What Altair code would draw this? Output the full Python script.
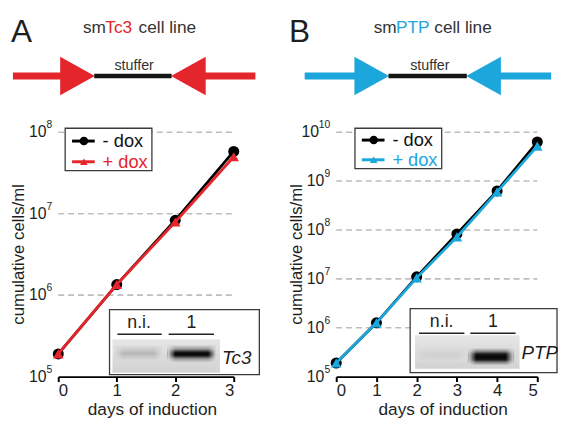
import altair as alt
import pandas as pd

# ---------------- data ----------------
days_a = [0, 1, 2, 3]
minus_dox_a = [1.9e5, 1.35e6, 8.3e6, 5.8e7]
plus_dox_a = [1.9e5, 1.35e6, 7.9e6, 5.0e7]

days_b = [0, 1, 2, 3, 4, 5]
minus_dox_b = [1.9e5, 1.26e6, 1.1e7, 8.3e7, 6.3e8, 6.3e9]
plus_dox_b = [1.9e5, 1.26e6, 1.05e7, 7.2e7, 6.0e8, 5.2e9]

decades_a = [5, 6, 7, 8]
decades_b = [5, 6, 7, 8, 9, 10]

series_labels = ["- dox", "+ dox"]
gel_lanes = ["n.i.", "1"]
panel_letters = ["A", "B"]
gene_names = ["Tc3", "PTP"]
x_title = "days of induction"
y_title = "cumulative cells/ml"
stuffer_label = "stuffer"

FONT = "Liberation Sans"
INK = "#1e1e1e"
GTXT = "#333333"
RED = "#e4252b"
BLUE = "#1ba6dc"
GEL_MID = "#dbdbdb"
GEL_CLEAR = "rgba(219,219,219,0)"


def one():
    return alt.Chart(pd.DataFrame({"k": [0]}))


def V(v):
    return alt.value(v)


def rule(x1, x2, y, color, w, opacity=1):
    return one().mark_rule(color=color, strokeWidth=w, strokeCap="butt", opacity=opacity).encode(
        x=V(x1), x2=V(x2), y=V(y))


def text(x, y, s, size, color=INK, align="left", baseline="middle", style="normal", angle=None):
    m = dict(align=align, baseline=baseline, fontSize=size, color=color, font=FONT, fontStyle=style)
    if angle is not None:
        m["angle"] = angle
    return one().mark_text(**m).encode(x=V(x), y=V(y), text=V(s))


def rect(x1, x2, y1, y2, fill, stroke=None, sw=1.2):
    m = dict(fill=fill)
    if stroke is not None:
        m["stroke"] = stroke
        m["strokeWidth"] = sw
    return one().mark_rect(**m).encode(x=V(x1), x2=V(x2), y=V(y1), y2=V(y2))


def tri(x, y, color, right=True):
    path = "M-0.9,-1L0.9,0L-0.9,1Z" if right else "M0.9,-1L-0.9,0L0.9,1Z"
    return one().mark_point(shape=path, size=1521, filled=True, color=color, opacity=1,
                            strokeWidth=0).encode(x=V(x), y=V(y))


def lin(stops, horizontal=False):
    g = {"gradient": "linear", "x1": 0, "y1": 0, "x2": 1 if horizontal else 0,
         "y2": 0 if horizontal else 1}
    g["stops"] = [{"offset": o, "color": c} for o, c in stops]
    return g


def band(x1, x2, y1, y2, stops, fade=8):
    return [
        rect(x1, x2, y1, y2, lin(stops)),
        rect(x1, x1 + fade, y1, y2, lin([(0, GEL_MID), (1, GEL_CLEAR)], True)),
        rect(x2 - fade, x2, y1, y2, lin([(0, GEL_CLEAR), (1, GEL_MID)], True)),
    ]


GEL_FILL = lin([(0, "#e6e6e6"), (0.5, "#dbdbdb"), (1, "#d3d3d3")])


def panel(days, minus, plus, decs, color, marker_shape, letter, gene, W, H, L, faint_stops,
          band_stops):
    top = 10.0 ** max(decs)
    ysc = alt.Scale(type="log", domain=[1e5, top], nice=False)
    xsc = alt.Scale(domain=[0, max(days)], nice=False)
    df_m = pd.DataFrame({"day": days, "cells": minus})
    df_p = pd.DataFrame({"day": days, "cells": plus})
    xaxis = alt.Axis(values=days, format="d", title=x_title, grid=False,
                     labelFontSize=17, titleFontSize=17.5, labelFont=FONT, titleFont=FONT,
                     labelColor=INK, titleColor=INK, titleFontWeight="normal",
                     tickSize=5, tickWidth=2, tickColor="black", domainColor="black",
                     domainWidth=2, labelPadding=1, titlePadding=2, titleX=W / 2 + 6)
    yaxis = alt.Axis(values=[10.0 ** e for e in decs], labels=False, title=None, grid=False,
                     tickSize=5, tickWidth=2, tickColor="black", domainColor="black",
                     domainWidth=2)
    ex = alt.X("day:Q", scale=xsc, axis=xaxis)
    ey = alt.Y("cells:Q", scale=ysc, axis=yaxis)

    line_m = alt.Chart(df_m).mark_line(color="black", strokeWidth=2.8).encode(x=ex, y=ey)
    pts_m = alt.Chart(df_m).mark_point(filled=True, shape="circle", size=125, color="black",
                                       opacity=1).encode(x=ex, y=ey)
    line_p = alt.Chart(df_p).mark_line(color=color, strokeWidth=2.8).encode(x=ex, y=ey)
    pts_p = alt.Chart(df_p).mark_point(filled=True, shape=marker_shape, size=115, color=color,
                                       opacity=1).encode(x=ex, y=ey)

    decbase = alt.Chart(pd.DataFrame({"e": decs})).transform_calculate(
        v="pow(10, datum.e)", es="'' + datum.e")
    yv = alt.Y("v:Q", scale=ysc, axis=None)
    grid = decbase.transform_filter("datum.e > %d" % min(decs)).mark_rule(
        color="#bdbdbd", strokeDash=[6, 4], strokeWidth=1.6).encode(y=yv, x=V(0), x2=V(W))
    ten1 = decbase.transform_filter("datum.e < 10").mark_text(
        align="right", baseline="middle", fontSize=16, font=FONT, color=INK).encode(
        y=yv, x=V(-12), text=V("10"))
    ten2 = decbase.transform_filter("datum.e >= 10").mark_text(
        align="right", baseline="middle", fontSize=16, font=FONT, color=INK).encode(
        y=yv, x=V(-17.5), text=V("10"))
    exps = decbase.mark_text(align="right", baseline="middle", fontSize=10.5, dy=-7,
                             font=FONT, color=INK).encode(y=yv, x=V(-6), text="es:N")

    # top diagram
    deco = [
        rule(-51, -49, -123, "white", 1, 0),
        text(L["letter"][0], L["letter"][1], letter, 32, INK, baseline="alphabetic"),
        text(L["t_sm"], L["t_y"], "sm", 17.5, GTXT, baseline="alphabetic"),
        text(L["t_gene"], L["t_y"], gene, 17.5, color, baseline="alphabetic"),
        text(L["t_rest"], L["t_y"], "cell line", 17.5, GTXT, baseline="alphabetic"),
        rule(L["ar_l"], L["tri_l"], L["ar_y"], color, 7),
        rule(L["tri_r"], L["ar_r"], L["ar_y"], color, 7),
        tri(L["tri_l"], L["ar_y"], color, True),
        tri(L["tri_r"], L["ar_y"], color, False),
        rule(L["tri_l"] + 17, L["tri_r"] - 17, L["ar_y"], "#151515", 4.5),
        text(L["stuf_x"], L["ar_y"] - 6, stuffer_label, 14.5, GTXT, align="center",
             baseline="alphabetic"),
        text(L["ytitle_x"], H / 2, y_title, 17, INK, align="center", angle=270),
    ]

    # legend
    bx1, bx2, by1, by2 = L["leg_box"]
    r1, r2 = L["leg_rows"]
    lx1, lx2 = L["leg_line"]
    legend = [
        rect(bx1, bx2, by1, by2, "white", "#3a3a3a", 1.3),
        rule(lx1, lx2, r1, "black", 3),
        one().mark_point(filled=True, shape="circle", size=75, color="black", opacity=1).encode(
            x=V(L["leg_mark"]), y=V(r1)),
        text(L["leg_text"], r1, series_labels[0], 18.5, "#111111"),
        rule(lx1, lx2, r2, color, 3),
        one().mark_point(filled=True, shape=marker_shape, size=60, color=color, opacity=1).encode(
            x=V(L["leg_mark"]), y=V(r2)),
        text(L["leg_text"], r2, series_labels[1], 18.5, color),
    ]

    # inset gel
    ib = L["in_box"]
    g = L["gel"]
    fb = L["faint"]
    db = L["band"]
    inset = [
        rect(ib[0], ib[1], ib[2], ib[3], "white", "#3a3a3a", 1.3),
        rect(g[0], g[1], g[2], g[3], GEL_FILL),
        *band(fb[0], fb[1], fb[2], fb[3], faint_stops),
        *band(db[0], db[1], db[2], db[3], band_stops),
        rule(L["ln1"][0], L["ln1"][1], L["ln_y"], "#222222", 1.6),
        rule(L["ln2"][0], L["ln2"][1], L["ln_y"], "#222222", 1.6),
        text(L["lab1"], L["lab_y"], gel_lanes[0], 18, INK, align="center"),
        text(L["lab2"], L["lab_y"], gel_lanes[1], 18, INK, align="center"),
        text(L["gene_x"], L["gene_y"], gene, 19, INK, style="italic"),
    ]

    return alt.layer(grid, line_m, pts_m, line_p, pts_p, ten1, ten2, exps,
                     *deco, *legend, *inset).properties(width=W, height=H)


LA = dict(letter=(-48, -92), t_sm=25, t_gene=47.7, t_rest=81.5, t_y=-101,
          ar_y=-57, ar_l=-46, ar_r=200, tri_l=19.5, tri_r=132, stuf_x=77, ytitle_x=-40,
          leg_box=(7, 95, -4, 39), leg_rows=(9, 30), leg_line=(14, 37), leg_mark=26, leg_text=45,
          in_box=(52, 204, 180, 246), gel=(55, 164, 210, 244), faint=(58, 105, 217, 232),
          band=(111, 160, 216, 234), ln1=(60, 105), ln2=(112, 158), ln_y=205,
          lab1=82, lab2=135, lab_y=194, gene_x=166, gene_y=229)

LB = dict(letter=(-48, -92), t_sm=38, t_gene=60.7, t_rest=99.5, t_y=-101,
          ar_y=-57, ar_l=-32, ar_r=218, tri_l=36, tri_r=149.5, stuf_x=95, ytitle_x=-40,
          leg_box=(19, 107, -4, 37), leg_rows=(8, 28), leg_line=(26, 49), leg_mark=38, leg_text=57,
          in_box=(75, 224, 179, 244), gel=(80, 186, 206, 240), faint=(82, 132, 219, 233),
          band=(134, 180, 219, 237), ln1=(84, 130), ln2=(136, 182), ln_y=204,
          lab1=107, lab2=159, lab_y=193, gene_x=188, gene_y=224)

FAINT_A = [(0, GEL_MID), (0.3, "#c6c6c6"), (0.5, "#b6b6b6"), (0.7, "#c6c6c6"), (1, GEL_MID)]
FAINT_B = [(0, GEL_MID), (0.5, "#d0d0d0"), (1, GEL_MID)]
BAND_A = [(0, GEL_MID), (0.22, "#9a9a9a"), (0.4, "#1c1c1c"), (0.5, "#000000"),
          (0.6, "#1c1c1c"), (0.78, "#9a9a9a"), (1, GEL_MID)]
BAND_B = [(0, GEL_MID), (0.18, "#8a8a8a"), (0.34, "#1a1a1a"), (0.5, "#050505"),
          (0.66, "#1a1a1a"), (0.82, "#8a8a8a"), (1, GEL_MID)]

pa = panel(days_a, minus_dox_a, plus_dox_a, decades_a, RED, "triangle-up",
           panel_letters[0], gene_names[0], 178, 248, LA, FAINT_A, BAND_A)
pb = panel(days_b, minus_dox_b, plus_dox_b, decades_b, BLUE, "triangle-up",
           panel_letters[1], gene_names[1], 204, 248, LB, FAINT_B, BAND_B)

chart = alt.hconcat(pa, pb, spacing=26).properties(padding=0).configure_view(stroke=None)

chart.save("out.html", embed_options={"renderer": "svg", "actions": False})
